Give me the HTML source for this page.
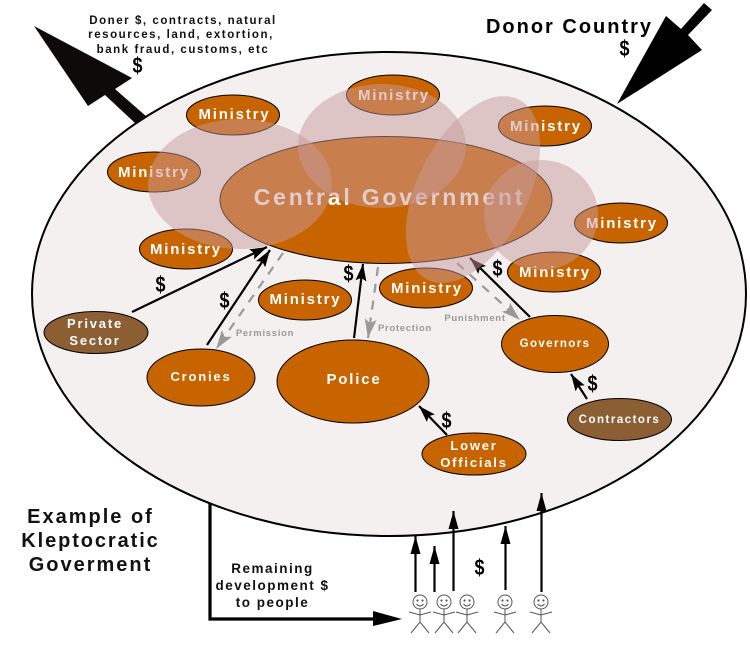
<!DOCTYPE html>
<html><head><meta charset="utf-8"><style>
html,body{margin:0;padding:0;background:#fff}
svg{display:block}
text{font-family:"Liberation Sans",Arial,sans-serif;font-weight:bold;text-anchor:middle}
.m{font-size:15px;letter-spacing:1.8px;fill:#fff}
.s{font-size:13px;letter-spacing:1.8px;fill:#fff}
.k{fill:#111}
.d{font-size:22px;fill:#000}
.g{font-size:9.5px;letter-spacing:.7px;fill:#999}
.o{fill:#c86400;stroke:#000;stroke-width:1}
.b{fill:#8b5e34;stroke:#000;stroke-width:1}
.bl{fill:#c89a9a;fill-opacity:.5}
.a{stroke:#000;stroke-width:2.2;fill:none;marker-end:url(#h)}
.u{stroke:#000;stroke-width:2.2;fill:none;marker-end:url(#up)}
.da{stroke:#999;stroke-width:2.2;fill:none;stroke-dasharray:9 8;marker-end:url(#gh)}
.p{stroke:#555;stroke-width:1;fill:none}
</style></head><body>
<svg width="750" height="650" viewBox="0 0 750 650" xmlns="http://www.w3.org/2000/svg">
<defs>
<marker id="h" markerUnits="userSpaceOnUse" markerWidth="24" markerHeight="16" refX="20" refY="8" orient="auto"><path d="M20,8 L3,2.500 L6,8 L3,13.500Z" fill="#000"/></marker>
<marker id="gh" markerUnits="userSpaceOnUse" markerWidth="24" markerHeight="16" refX="20" refY="8" orient="auto"><path d="M20,8 L1,2 L5,8 L1,14Z" fill="#999"/></marker>
<marker id="up" markerUnits="userSpaceOnUse" markerWidth="24" markerHeight="16" refX="20" refY="8" orient="auto"><path d="M20,8 L2,3 L2,13Z" fill="#000"/></marker>
<g id="man" class="p">
<circle cx="0" cy="0" r="7"/>
<circle cx="-2.5" cy="-1.5" r="1.1" fill="#555" stroke="none"/><circle cx="2.5" cy="-1.5" r="1.1" fill="#555" stroke="none"/>
<path d="M-3.5,2 Q0,6 3.5,2"/>
<path d="M0,7 V20 M-11,10 L0,13 L11,10 M-9,31 L0,20 L9,31"/>
</g>
</defs>

<polygon points="34,26 132,78 115,89 147,117 135,123 105,95 88,106" fill="#0d0a08"/>
<polygon points="617,104 666,16 681,29 704,3 712,10 688,35 702,50" fill="#000"/>

<path d="M210,500 V619 H375" stroke="#000" stroke-width="3.2" fill="none"/>
<polygon points="373,611 402,619 373,626" fill="#000"/>

<ellipse cx="389" cy="294" rx="357" ry="242" fill="#f5f0f0" stroke="#000" stroke-width="2"/>

<ellipse class="o" cx="386" cy="200" rx="166" ry="63.5"/>
<ellipse class="o" cx="233" cy="115" rx="46.5" ry="20"/>
<ellipse class="o" cx="154" cy="172" rx="46.5" ry="20"/>
<ellipse class="o" cx="186" cy="249" rx="46.5" ry="20"/>
<ellipse class="o" cx="305" cy="300" rx="46.5" ry="20"/>
<ellipse class="o" cx="393" cy="95" rx="46.5" ry="20"/>
<ellipse class="o" cx="545" cy="126" rx="46.5" ry="20"/>
<ellipse class="o" cx="621" cy="223" rx="46.5" ry="20"/>
<ellipse class="o" cx="554" cy="272" rx="46.5" ry="20"/>
<ellipse class="o" cx="426" cy="288" rx="46.5" ry="20"/>
<ellipse class="b" cx="96" cy="332.500" rx="52" ry="21"/>
<ellipse class="o" cx="201" cy="377.500" rx="54" ry="28.500"/>
<ellipse class="o" cx="353" cy="381.500" rx="76" ry="41.500"/>
<ellipse class="o" cx="555" cy="344" rx="53.500" ry="28.500"/>
<ellipse class="b" cx="619.500" cy="419.500" rx="52" ry="21"/>
<ellipse class="o" cx="474" cy="454" rx="52" ry="21"/>

<text x="389.500" y="205" style="font-size:23px;letter-spacing:2.8px;fill:#fff">Central Government</text>
<text class="m" x="234.400" y="119">Ministry</text>
<text class="m" x="153.900" y="177">Ministry</text>
<text class="m" x="185.900" y="254">Ministry</text>
<text class="m" x="305.400" y="304">Ministry</text>
<text class="m" x="393.900" y="100">Ministry</text>
<text class="m" x="545.900" y="131">Ministry</text>
<text class="m" x="621.900" y="228">Ministry</text>
<text class="m" x="554.900" y="277">Ministry</text>
<text class="m" x="426.900" y="293">Ministry</text>
<text class="s" x="95" y="328">Private</text>
<text class="s" x="95" y="345">Sector</text>
<text class="s" x="201" y="381">Cronies</text>
<text x="354" y="384" style="font-size:15px;letter-spacing:1.8px;fill:#fff">Police</text>
<text x="555" y="347" style="font-size:11.500px;letter-spacing:1.400px;fill:#fff">Governors</text>
<text x="619.500" y="423" style="font-size:11.500px;letter-spacing:1.500px;fill:#fff">Contractors</text>
<text class="s" x="474" y="450">Lower</text>
<text class="s" x="474" y="467">Officials</text>

<line class="a" x1="132" y1="312" x2="267" y2="247"/>
<line class="a" x1="207" y1="345" x2="270" y2="250"/>
<line class="a" x1="354" y1="338" x2="363" y2="264"/>
<line class="a" x1="530" y1="317" x2="470" y2="258"/>
<line class="a" x1="587" y1="399" x2="571" y2="374"/>
<line class="a" x1="447" y1="435" x2="419" y2="406"/>
<line class="da" x1="283" y1="253" x2="216" y2="349"/>
<line class="da" x1="378" y1="267" x2="368" y2="338"/>
<line class="da" x1="457" y1="263" x2="520" y2="320"/>

<line class="u" x1="415.500" y1="592" x2="415.500" y2="536"/>
<line class="u" x1="434.500" y1="592" x2="434.500" y2="546"/>
<line class="u" x1="453.500" y1="591" x2="453.500" y2="511"/>
<line class="u" x1="505.500" y1="590" x2="505.500" y2="526"/>
<line class="u" x1="541.500" y1="592" x2="541.500" y2="493"/>

<ellipse class="bl" cx="240" cy="184" rx="92" ry="65"/>
<ellipse class="bl" cx="382" cy="146" rx="84" ry="62"/>
<ellipse class="bl" cx="473" cy="189.500" rx="101" ry="55" transform="rotate(-63 473 189.500)"/>
<ellipse class="bl" cx="541" cy="215" rx="57" ry="55"/>

<use href="#man" x="420" y="602"/>
<use href="#man" x="444" y="602"/>
<use href="#man" x="467" y="602"/>
<use href="#man" x="505" y="602"/>
<use href="#man" x="541" y="602"/>

<text class="d" x="137.500" y="73" textLength="10" lengthAdjust="spacingAndGlyphs">$</text>
<text class="d" x="160.500" y="292" textLength="10" lengthAdjust="spacingAndGlyphs">$</text>
<text class="d" x="224.500" y="308" textLength="10" lengthAdjust="spacingAndGlyphs">$</text>
<text class="d" x="348.500" y="281" textLength="10" lengthAdjust="spacingAndGlyphs">$</text>
<text class="d" x="497.500" y="276" textLength="10" lengthAdjust="spacingAndGlyphs">$</text>
<text class="d" x="592.500" y="391" textLength="10" lengthAdjust="spacingAndGlyphs">$</text>
<text class="d" x="446.500" y="428" textLength="10" lengthAdjust="spacingAndGlyphs">$</text>
<text class="d" x="479.500" y="575" textLength="10" lengthAdjust="spacingAndGlyphs">$</text>
<text class="d" x="624.500" y="56" textLength="10" lengthAdjust="spacingAndGlyphs">$</text>

<text class="k" x="183" y="24" style="font-size:11.500px;letter-spacing:1.550px">Doner $, contracts, natural</text>
<text class="k" x="181" y="38" style="font-size:11.500px;letter-spacing:1.550px">resources, land, extortion,</text>
<text class="k" x="183" y="53" style="font-size:11.500px;letter-spacing:1.550px">bank fraud, customs, etc</text>
<text x="569.500" y="33" style="font-size:20px;letter-spacing:2px;fill:#000">Donor Country</text>
<text class="k" x="90.500" y="523" style="font-size:20px;letter-spacing:2px">Example of</text>
<text class="k" x="90.500" y="547" style="font-size:20px;letter-spacing:1.900px">Kleptocratic</text>
<text class="k" x="90.500" y="571" style="font-size:20px;letter-spacing:2px">Goverment</text>
<text class="k" x="272.500" y="573" style="font-size:13.500px;letter-spacing:1.500px">Remaining</text>
<text class="k" x="272.500" y="590" style="font-size:13.500px;letter-spacing:1.500px">development $</text>
<text class="k" x="272.500" y="607" style="font-size:13.500px;letter-spacing:1.500px">to people</text>
<text class="g" x="265" y="336">Permission</text>
<text class="g" x="405" y="331">Protection</text>
<text class="g" x="475" y="321">Punishment</text>
</svg>
</body></html>
